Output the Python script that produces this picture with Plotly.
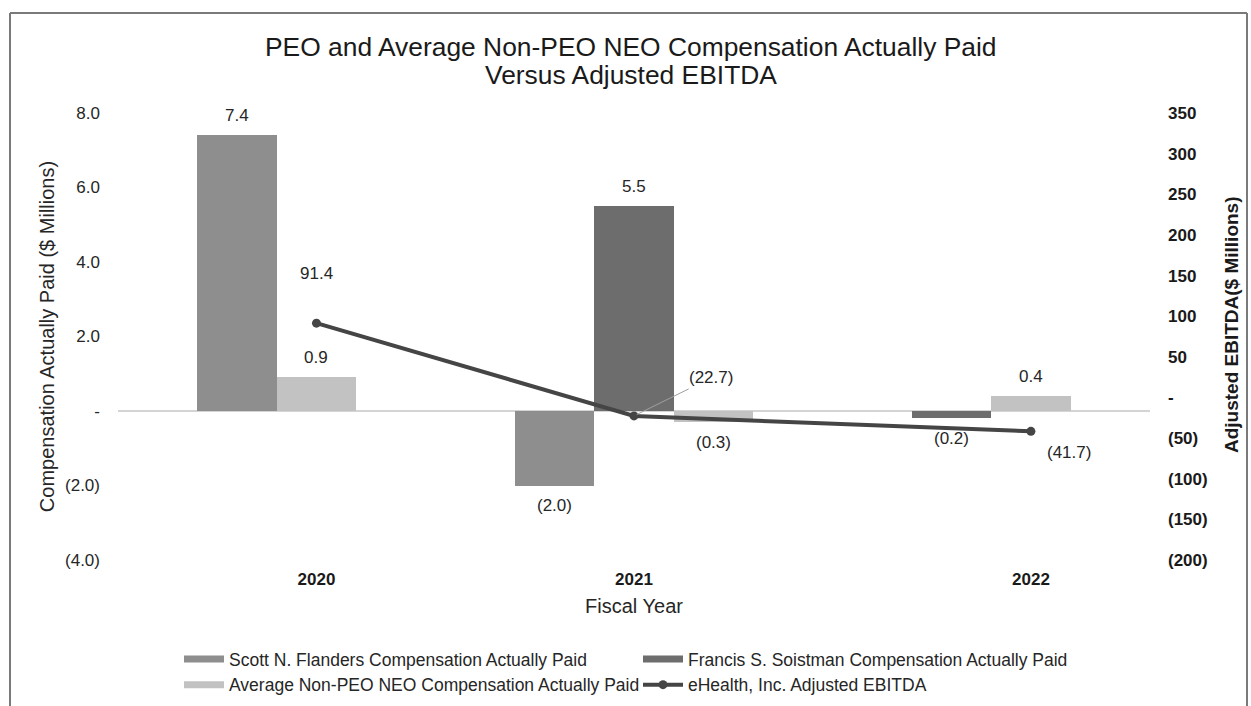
import plotly.graph_objects as go

# ---------------- data ----------------
years = ["2020", "2021", "2022"]
scott = [7.4, -2.0, None]          # Scott N. Flanders CAP ($M)
francis = [None, 5.5, -0.2]        # Francis S. Soistman CAP ($M)
avg_neo = [0.9, -0.3, 0.4]         # Average Non-PEO NEO CAP ($M)
ebitda = [91.4, -22.7, -41.7]      # eHealth Adjusted EBITDA ($M)
title_lines = ["PEO and Average Non-PEO NEO Compensation Actually Paid", "Versus Adjusted EBITDA"]
left_ticks = [-4, -2, 0, 2, 4, 6, 8]
right_ticks = [-200, -150, -100, -50, 0, 50, 100, 150, 200, 250, 300, 350]

# ---------------- layout / style constants ----------------
YEAR_POS = [2.5, 6.5, 11.5]        # category centres in bar-slot units
OFF_SCOTT = [-1, -1, 0]
OFF_FRANCIS = [0, 0, -1]
OFF_AVG = [0, 1, 0]
FONT = "Arial, Liberation Sans, sans-serif"
TXT = "#262626"
DARK = "#1a1a1a"

C_SCOTT = "#8e8e8e"
C_FRANCIS = "#6d6d6d"
C_AVG = "#c2c2c2"
C_LINE = "#454545"

L, R, T, B = 118, 1150, 113, 560
W, H = 1251, 706


def px(xp):
    return (xp - L) / (R - L)


def py(yp):
    return (B - yp) / (B - T)


def fmt(v):
    return f"({abs(v):.1f})" if v < 0 else f"{v:.1f}"


fig = go.Figure()


def add_bars(name, vals, offs, color):
    xs, ys = [], []
    for p, o, v in zip(YEAR_POS, offs, vals):
        if v is None:
            continue
        xs.append(p + o)
        ys.append(v)
    fig.add_trace(go.Bar(
        name=name, x=xs, y=ys, width=1.0, marker=dict(color=color, line=dict(width=0)),
        yaxis="y", legendgroup=name, showlegend=False,
    ))
    # legend patch (wide thin bar like the original)
    fig.add_trace(go.Scatter(name=name, x=[None], y=[None], mode="lines",
                             line=dict(color=color, width=7), legendgroup=name, showlegend=True))
    for x, v in zip(xs, ys):
        fig.add_annotation(x=x, y=v, xref="x", yref="y", text=fmt(v), showarrow=False,
                           yshift=20 if v >= 0 else -20,
                           font=dict(family=FONT, size=17, color=TXT))


add_bars("Scott N. Flanders Compensation Actually Paid", scott, OFF_SCOTT, C_SCOTT)
add_bars("Francis S. Soistman Compensation Actually Paid", francis, OFF_FRANCIS, C_FRANCIS)
add_bars("Average Non-PEO NEO Compensation Actually Paid", avg_neo, OFF_AVG, C_AVG)
fig.add_trace(go.Scatter(
    name="eHealth, Inc. Adjusted EBITDA", x=YEAR_POS, y=ebitda, yaxis="y2",
    mode="lines+markers", line=dict(color=C_LINE, width=4),
    marker=dict(color=C_LINE, size=9), cliponaxis=False,
))

# line data labels
label_shift = [(0, 50, False), (77, -38, True), (38, -21, False)]
for p, v, (dx, dy, arrow) in zip(YEAR_POS, ebitda, label_shift):
    if arrow:
        fig.add_annotation(x=p, y=v, xref="x", yref="y2", text=fmt(v), showarrow=True,
                           ax=dx, ay=dy, arrowhead=0, arrowwidth=1, arrowcolor="#a0a0a0",
                           standoff=3, font=dict(family=FONT, size=17, color=TXT))
    else:
        fig.add_annotation(x=p, y=v, xref="x", yref="y2", text=fmt(v), showarrow=False,
                           xshift=dx, yshift=dy, font=dict(family=FONT, size=17, color=TXT))

# two-line chart title
for line, yc in zip(title_lines, [47, 75]):
    fig.add_annotation(text=line, xref="paper", yref="paper", x=px(631), y=py(yc),
                       xanchor="center", yanchor="middle", showarrow=False,
                       font=dict(family=FONT, size=26.4, color=DARK))

# right axis title (placed like the original)
fig.add_annotation(text="<b>Adjusted EBITDA($ Millions)</b>", xref="paper", yref="paper",
                   x=px(1231), y=py(325), xanchor="center", yanchor="middle", textangle=-90,
                   showarrow=False, font=dict(family=FONT, size=19, color=DARK))

# outer frame (approx. chart border)
for x0, y0, x1, y1 in [(10, 13, 1247, 13), (10, 13, 10, 720), (1247, 13, 1247, 720)]:
    fig.add_shape(type="line", xref="paper", yref="paper", x0=px(x0), y0=py(y0), x1=px(x1), y1=py(y1),
                  line=dict(color="#7a7a7a", width=2), layer="above")

fig.update_layout(
    width=W, height=H, paper_bgcolor="white", plot_bgcolor="white",
    margin=dict(l=L, r=W - R, t=T, b=H - B, autoexpand=False),
    barmode="overlay", bargap=0,
    font=dict(family=FONT, color=TXT),
    xaxis=dict(range=[0, 13], tickvals=YEAR_POS, ticktext=[f"<b>{y}</b>" for y in years],
               showgrid=False, zeroline=False, showline=False, ticks="",
               ticklabelstandoff=7, tickfont=dict(family=FONT, size=17, color=DARK),
               title=dict(text="Fiscal Year", standoff=10, font=dict(family=FONT, size=20, color=TXT))),
    yaxis=dict(range=[-4, 8], tickvals=left_ticks, ticktext=[("-" if t == 0 else fmt(t)) for t in left_ticks],
               showgrid=False, zeroline=True, zerolinecolor="#d4d4d4", zerolinewidth=1.5,
               showline=False, ticks="", ticklabelstandoff=17,
               tickfont=dict(family=FONT, size=17, color=TXT),
               title=dict(text="Compensation Actually Paid ($ Millions)", standoff=5,
                          font=dict(family=FONT, size=20, color=TXT))),
    yaxis2=dict(range=[-200, 350], overlaying="y", side="right", tickvals=right_ticks,
                ticktext=[("<b>-</b>" if t == 0 else ("<b>(%d)</b>" % abs(t) if t < 0 else "<b>%d</b>" % t)) for t in right_ticks],
                showgrid=False, zeroline=False, showline=False, ticks="", ticklabelstandoff=17,
                tickfont=dict(family=FONT, size=17, color=DARK)),
    legend=dict(orientation="h", x=px(179), xanchor="left", y=py(641), yanchor="top",
                entrywidth=404, entrywidthmode="pixels", traceorder="normal", itemwidth=40,
                tracegroupgap=0,
                font=dict(family=FONT, size=17.5, color=TXT), bgcolor="rgba(0,0,0,0)"),
    showlegend=True,
)

fig.write_html("out.html")
